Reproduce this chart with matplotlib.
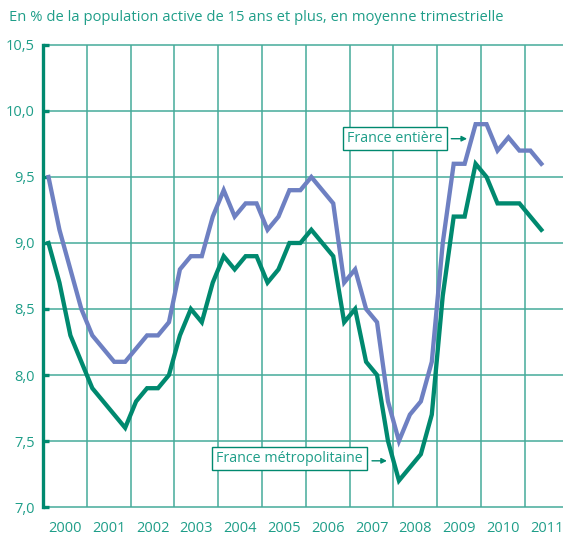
import numpy as np
import matplotlib
matplotlib.use("Agg")
import matplotlib.pyplot as plt

plt.rcParams['font.family'] = ['Open Sans', 'DejaVu Sans']

# Taux de chomage trimestriel, 2000T1 -> 2011T2
years = list(range(2000, 2012))
france_entiere = [
    9.5, 9.1, 8.8, 8.5,   # 2000
    8.3, 8.2, 8.1, 8.1,   # 2001
    8.2, 8.3, 8.3, 8.4,   # 2002
    8.8, 8.9, 8.9, 9.2,   # 2003
    9.4, 9.2, 9.3, 9.3,   # 2004
    9.1, 9.2, 9.4, 9.4,   # 2005
    9.5, 9.4, 9.3, 8.7,   # 2006
    8.8, 8.5, 8.4, 7.8,   # 2007
    7.5, 7.7, 7.8, 8.1,   # 2008
    9.0, 9.6, 9.6, 9.9,   # 2009
    9.9, 9.7, 9.8, 9.7,   # 2010
    9.7, 9.6,             # 2011
]
france_metro = [
    9.0, 8.7, 8.3, 8.1,
    7.9, 7.8, 7.7, 7.6,
    7.8, 7.9, 7.9, 8.0,
    8.3, 8.5, 8.4, 8.7,
    8.9, 8.8, 8.9, 8.9,
    8.7, 8.8, 9.0, 9.0,
    9.1, 9.0, 8.9, 8.4,
    8.5, 8.1, 8.0, 7.5,
    7.2, 7.3, 7.4, 7.7,
    8.6, 9.2, 9.2, 9.6,
    9.5, 9.3, 9.3, 9.3,
    9.2, 9.1,
]
y_ticks = [7.0, 7.5, 8.0, 8.5, 9.0, 9.5, 10.0, 10.5]

TEAL = '#00896f'
TEXT = '#1f9e89'
GRID = '#45ab9a'
BLUE = '#6e80c2'

# points au milieu de chaque trimestre
quarters = 2000 + (np.arange(len(france_entiere)) + 0.5) / 4

fig = plt.figure(figsize=(5.63, 5.38), dpi=100)
ax = fig.add_axes([0.0764, 0.0576, 0.9236, 0.8588])

for y in y_ticks:
    ax.axhline(y, color=GRID, lw=1.1, clip_on=False, zorder=1)
for yr in years[1:]:
    ax.axvline(yr, color=GRID, lw=1.1, zorder=1)

ax.plot(quarters, france_entiere, color=BLUE, lw=3.1, solid_joinstyle='miter', zorder=3)
ax.plot(quarters, france_metro, color=TEAL, lw=3.1, solid_joinstyle='miter', zorder=3)

ax.set_xlim(2000, 2011.87)
ax.set_ylim(7.0, 10.5)

for s in ['top', 'right', 'bottom']:
    ax.spines[s].set_visible(False)
ax.spines['left'].set_color(TEAL)
ax.spines['left'].set_linewidth(2.4)

ax.set_yticks(y_ticks)
ax.set_yticklabels([f"{v:.1f}".replace('.', ',') for v in y_ticks])
ax.tick_params(axis='y', direction='in', length=4, width=2.4, color=TEAL,
               labelcolor=TEXT, labelsize=10.5, pad=6)

ax.set_xticks(years)
ax.set_xticklabels([])
ax.set_xticks([y + 0.5 for y in years], minor=True)
ax.set_xticklabels([str(y) for y in years], minor=True)
ax.tick_params(axis='x', which='both', length=0, labelcolor=TEXT,
               labelsize=10.5, pad=10)

fig.text(0.016, 0.968, "En % de la population active de 15 ans et plus, en moyenne trimestrielle",
         color=TEXT, fontsize=10.6, ha='left', va='center')

box = dict(boxstyle='square,pad=0.3', fc='white', ec=TEAL, lw=1)
arrow = dict(arrowstyle='-|>', color=TEAL, lw=1, mutation_scale=8, shrinkA=0, shrinkB=0)

ax.text(2008.04, 9.79, "France entière", color=TEXT, fontsize=10.3,
        ha='center', va='center', bbox=box, zorder=4)
ax.annotate('', xy=(2009.68, 9.79), xytext=(2009.32, 9.79), arrowprops=arrow, zorder=4)

ax.text(2005.62, 7.367, "France métropolitaine", color=TEXT, fontsize=10.3,
        ha='center', va='center', bbox=box, zorder=4)
ax.annotate('', xy=(2007.85, 7.35), xytext=(2007.51, 7.35), arrowprops=arrow, zorder=4)

fig.savefig("out.png", dpi=100)
